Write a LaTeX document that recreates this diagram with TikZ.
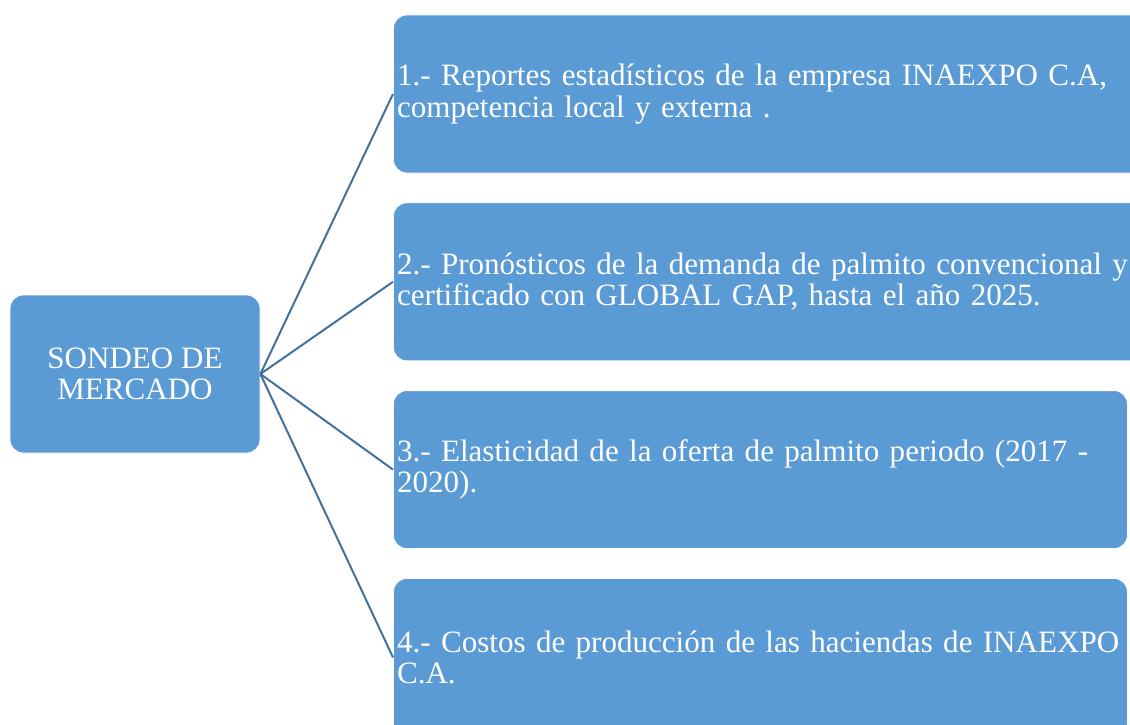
\documentclass[tikz,border=0pt]{standalone}
\usepackage{fontspec}
\setmainfont{Liberation Serif}
\usetikzlibrary{positioning}
\definecolor{boxblue}{HTML}{5B9BD5}
\definecolor{lineblue}{HTML}{41719C}
\hyphenpenalty=10000
\exhyphenpenalty=10000

\begin{document}
\begin{tikzpicture}[x=0.75pt, y=-0.75pt, node distance={21.75pt},
  main/.style = {draw=white, line width=0.6pt, fill=boxblue, rounded corners=10pt, text=white, font=\fontsize{23.3}{23.5}\selectfont},
  sub/.style = {main, minimum height=118.5pt, text width=545pt, inner xsep=2.75pt, align=left}]
\useasboundingbox (0,0) rectangle (1130,724);
\clip (0,0) rectangle (1130,724);
\node[main, minimum width=187.5pt, minimum height=118.5pt, align=center] (0) at (135,374) {SONDEO DE\\MERCADO};
\node[sub, anchor=west, text width=580pt] (1) at (393,94) {1.- Reportes estadísticos de la empresa INAEXPO C.A,\\competencia local y externa .};
\node[sub, text width=580pt, below=of 1.south west, anchor=north west] (2) {2.- Pronósticos de la demanda de palmito convencional y\\certificado con GLOBAL GAP, hasta el año 2025.};
\node[sub, below=of 2.south west, anchor=north west] (3) {3.- Elasticidad de la oferta de palmito periodo (2017 -\\2020).};
\node[sub, below=of 3.south west, anchor=north west] (4) {4.- Costos de producción de las haciendas de INAEXPO\\C.A.};
\draw[lineblue, line width=1.5pt] (0.east) -- (1.west);
\draw[lineblue, line width=1.5pt] (0.east) -- (2.west);
\draw[lineblue, line width=1.5pt] (0.east) -- (3.west);
\draw[lineblue, line width=1.5pt] (0.east) -- (4.west);
\end{tikzpicture}
\end{document}
